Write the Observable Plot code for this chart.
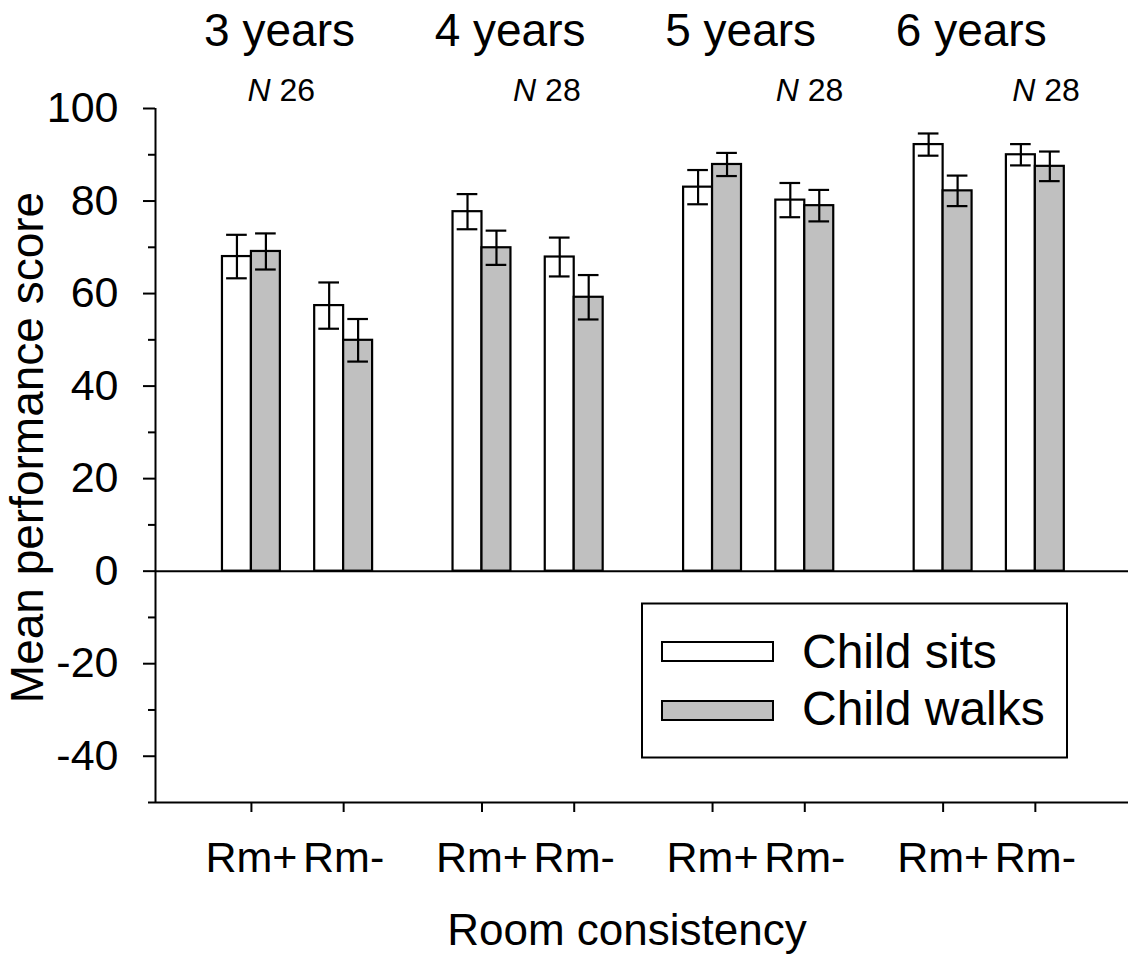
<!DOCTYPE html>
<html><head><meta charset="utf-8">
<script src="https://cdn.jsdelivr.net/npm/d3@7"></script>
<script src="https://cdn.jsdelivr.net/npm/@observablehq/plot@0.6"></script>
<style>
body{margin:0;background:#fff;}
#wrap{width:1133px;height:955px;}
</style></head><body><div id="wrap"></div>
<script>
// ---- data ----
const ages = ["3 years", "4 years", "5 years", "6 years"];
const groupN = ["26", "28", "28", "28"];
const conditions = ["Rm+", "Rm-"];
const seriesNames = ["Child sits", "Child walks"];
// order: age × condition (Rm+, Rm-)
const sitsMean  = [68.0, 57.4, 77.7, 67.9, 83.0, 80.2, 92.2, 90.0];
const sitsErr   = [4.7, 5.0, 3.8, 4.2, 3.7, 3.7, 2.4, 2.3];
const walksMean = [69.1, 49.9, 69.9, 59.2, 87.9, 79.0, 82.2, 87.5];
const walksErr  = [3.9, 4.6, 3.7, 4.8, 2.5, 3.4, 3.3, 3.2];
const yMajorTicks = [-40, -20, 0, 20, 40, 60, 80, 100];
const yMinorTicks = [-50, -30, -10, 10, 30, 50, 70, 90];

// ---- layout helpers (positions in category units) ----
const groupStep = 2.5;      // one age group = 2 categories + half-slot gap
const hw = 0.314;           // bar width in category units
const capHalf = 0.112;
const FONT = "'Liberation Sans', Arial, Helvetica, sans-serif";
const W = 1133, H = 955, ML = 155, MR = 5, MT = 108, MB = 153;
const xMin = -1.04, xMax = 9.51;
const pxPerUnit = (W - ML - MR) / (xMax - xMin);

const rows = [];
ages.forEach((age, gi) => conditions.forEach((cond, ci) => {
  const i = gi * conditions.length + ci;
  const pos = gi * groupStep + ci;
  rows.push({age, cond, series: seriesNames[0], mean: sitsMean[i], err: sitsErr[i], x1: pos - hw, x2: pos, xc: pos - hw / 2});
  rows.push({age, cond, series: seriesNames[1], mean: walksMean[i], err: walksErr[i], x1: pos, x2: pos + hw, xc: pos + hw / 2});
}));
const tickPos = [];
const tickLab = new Map();
ages.forEach((a, gi) => conditions.forEach((c, ci) => { const p = gi * groupStep + ci; tickPos.push(p); tickLab.set(p, c); }));
const groupCenter = (d, i) => i * groupStep + 0.5;
const nOffsets = [-50, -15, 17, 23];   // px shift of the italic N start from the group centre
const nLabelX = (d, i) => groupCenter(d, i) + nOffsets[i] / pxPerUnit;
const nNumX = (d, i) => groupCenter(d, i) + (nOffsets[i] + 32) / pxPerUnit;

const chart = Plot.plot({
  width: W,
  height: H,
  marginLeft: ML,
  marginRight: MR,
  marginTop: MT,
  marginBottom: MB,
  style: {fontFamily: FONT, fontSize: "43px", color: "#000", background: "#fff"},
  x: {type: "linear", domain: [xMin, xMax]},
  y: {domain: [-50, 100]},
  color: {domain: seriesNames, range: ["#ffffff", "#c0c0c0"]},
  marks: [
    Plot.rect(rows, {x1: "x1", x2: "x2", y1: 0, y2: "mean", fill: "series", stroke: "#000", strokeWidth: 2.2}),
    Plot.ruleX(rows, {x: "xc", y1: d => d.mean - d.err, y2: d => d.mean + d.err, stroke: "#000", strokeWidth: 2.2}),
    Plot.ruleY(rows, {y: d => d.mean + d.err, x1: d => d.xc - capHalf, x2: d => d.xc + capHalf, stroke: "#000", strokeWidth: 2.2}),
    Plot.ruleY(rows, {y: d => d.mean - d.err, x1: d => d.xc - capHalf, x2: d => d.xc + capHalf, stroke: "#000", strokeWidth: 2.2}),
    Plot.ruleY([0], {stroke: "#000", strokeWidth: 2}),
    Plot.ruleY([-50], {stroke: "#000", strokeWidth: 2}),
    Plot.ruleX([xMin], {y1: -50, y2: 100, stroke: "#000", strokeWidth: 2}),
    Plot.axisY(yMajorTicks, {tickSize: 12, tickPadding: 25, tickFormat: d => String(d), fontSize: 43, strokeWidth: 2, label: null}),
    Plot.axisY(yMinorTicks, {tickSize: 7, tickFormat: () => "", strokeWidth: 2, label: null}),
    Plot.axisX(tickPos, {tickSize: 10, tickPadding: 29, tickFormat: d => tickLab.get(d), fontSize: 43, strokeWidth: 2, label: null}),
    // age titles
    Plot.text(ages, {x: groupCenter, frameAnchor: "top", lineAnchor: "bottom", textAnchor: "middle", dy: -63, dx: -18, fontSize: 46, fill: "#000"}),
    // N labels: italic N + number
    Plot.text(groupN, {x: nLabelX, text: () => "N", frameAnchor: "top", lineAnchor: "bottom", textAnchor: "start", dy: -8, fontSize: 32, fontStyle: "italic", fill: "#000"}),
    Plot.text(groupN, {x: nNumX, text: d => d, frameAnchor: "top", lineAnchor: "bottom", textAnchor: "start", dy: -8, fontSize: 32, fill: "#000"}),
    // axis titles
    Plot.text(["Room consistency"], {frameAnchor: "bottom", lineAnchor: "bottom", textAnchor: "middle", dy: 142, dx: -15, fontSize: 44, fill: "#000"}),
    Plot.text(["Mean performance score"], {frameAnchor: "left", textAnchor: "middle", lineAnchor: "middle", rotate: -90, dx: -127, dy: -8, fontSize: 46, fill: "#000"})
  ]
});
document.getElementById("wrap").appendChild(chart);

// ---- legend (inside the plot area, lower right) ----
const color = chart.scale("color");
const svg = d3.select(chart);
const lg = svg.append("g").attr("font-family", FONT).attr("text-anchor", "start");
lg.append("rect").attr("x", 642).attr("y", 603.5).attr("width", 425).attr("height", 154)
  .attr("fill", "#fff").attr("stroke", "#000").attr("stroke-width", 2);
seriesNames.forEach((name, i) => {
  const y0 = 642 + i * 59;
  lg.append("rect").attr("x", 662).attr("y", y0).attr("width", 111).attr("height", 19)
    .attr("fill", color.apply(name)).attr("stroke", "#000").attr("stroke-width", 2);
  lg.append("text").attr("x", 802).attr("y", 668 + i * 57).attr("font-size", 48)
    .attr("text-anchor", "start").attr("fill", "#000").text(name);
});
</script></body></html>
